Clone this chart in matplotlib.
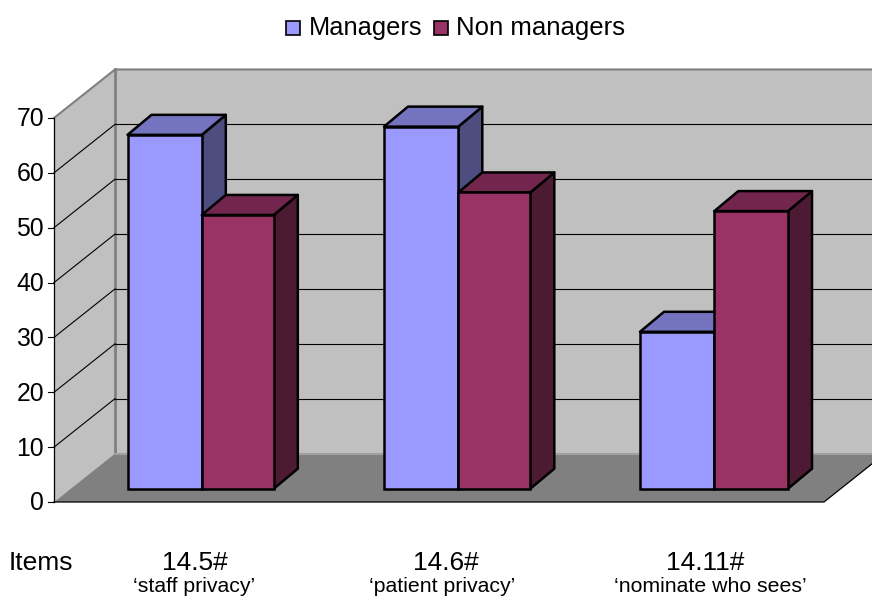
import matplotlib
matplotlib.use('Agg')
import matplotlib.pyplot as plt
from matplotlib.patches import Polygon, Rectangle

plt.rcParams['font.family'] = ['Liberation Sans', 'DejaVu Sans']

# data
items = ['14.5#', '14.6#', '14.11#']
item_notes = ['\u2018staff privacy\u2019', '\u2018patient privacy\u2019', '\u2018nominate who sees\u2019']
managers = [64.5, 66.0, 28.6]
non_managers = [49.9, 54.0, 50.6]
y_ticks = [0, 10, 20, 30, 40, 50, 60, 70]

# layout in pixels
x0, x1 = 54, 824
y0 = 502
per_unit = 5.486
dx, dy = 61, 48.5
bar_dx, bar_dy = 24, 20
bar_y = 488.7
group_left = [127.5, 384, 640]
w_m = 74.3
w_n = [72, 72, 73.7]
item_cx = [195, 446, 705]
note_cx = [194.5, 442, 710]

wall = '#C0C0C0'
floor = '#808080'
blue = ('#9999FF', '#7373BF', '#4D4D80')
plum = ('#993366', '#73264D', '#4D1A33')


def to_y(v):
    return y0 - v * per_unit


fig = plt.figure(figsize=(8.72, 5.98), dpi=100)
ax = fig.add_axes([0, 0, 1, 1])
ax.set_xlim(0, 872)
ax.set_ylim(598, 0)
ax.axis('off')

top = to_y(y_ticks[-1])

# walls and floor
ax.add_patch(Rectangle((x0 + dx, top - dy), 872 - x0 - dx, y0 - top, fc=wall, ec='none', zorder=1))
ax.add_patch(Polygon([(x0, y0), (x0, top), (x0 + dx, top - dy), (x0 + dx, y0 - dy)], fc=wall, ec='none', zorder=1))
ax.add_patch(Polygon([(x0, y0), (x1, y0), (x1 + dx, y0 - dy), (x0 + dx, y0 - dy)], fc=floor, ec='none', zorder=1))
ax.plot([x0, x0 + dx, 872], [top, top - dy, top - dy], color=floor, lw=1.5, zorder=2)
ax.plot([x0 + dx, x0 + dx], [top - dy, y0 - dy], color=floor, lw=2, zorder=2)
ax.plot([x0 + dx, 872], [y0 - dy + 0.5, y0 - dy + 0.5], color='#A0A0A0', lw=1.5, zorder=2)

# gridlines and ticks
for t in y_ticks:
    y = to_y(t)
    if t > 0 and t < y_ticks[-1]:
        ax.plot([x0, x0 + dx], [y, y - dy], color='black', lw=0.8, zorder=3)
        ax.plot([x0 + dx, 872], [y - dy, y - dy], color='black', lw=0.8, zorder=3)
    ax.plot([x0 - 6, x0], [y, y], color='black', lw=0.8, zorder=3)
    ax.text(x0 - 10, y + 1.5, str(t), ha='right', va='center', fontsize=17.8, color='black')

# axis lines
ax.plot([x0, x0], [top, y0], color='black', lw=0.9, zorder=3)
ax.plot([x0, x1, x1 + dx], [y0, y0, y0 - dy], color='black', lw=0.9, zorder=3)


def bar3d(left, width, value, cols, z):
    b = bar_y
    t = bar_y - value * per_unit
    r = left + width
    pts_top = [(left, t), (r, t), (r + bar_dx, t - bar_dy), (left + bar_dx, t - bar_dy)]
    pts_side = [(r, t), (r + bar_dx, t - bar_dy), (r + bar_dx, b - bar_dy), (r, b)]
    ax.add_patch(Polygon(pts_side, fc=cols[2], ec='black', lw=1.8, joinstyle='round', zorder=z))
    ax.add_patch(Polygon(pts_top, fc=cols[1], ec='black', lw=1.8, joinstyle='round', zorder=z))
    ax.add_patch(Rectangle((left, t), width, b - t, fc=cols[0], ec='black', lw=1.8, zorder=z + 0.1))


for i in range(len(items)):
    bar3d(group_left[i], w_m, managers[i], blue, 4)
    bar3d(group_left[i] + w_m, w_n[i], non_managers[i], plum, 5)
    ax.text(item_cx[i], 562.5, items[i], ha='center', va='center', fontsize=19, color='black')
    ax.text(note_cx[i], 592.5, item_notes[i], ha='center', va='baseline', fontsize=15.3, color='black')

ax.text(9, 562.5, 'Items', ha='left', va='center', fontsize=19, color='black')

# legend
ax.add_patch(Rectangle((286, 21), 14, 14, fc=blue[0], ec='black', lw=1.2, zorder=6))
ax.text(309, 28, 'Managers', ha='left', va='center', fontsize=18.3, color='black')
ax.add_patch(Rectangle((434, 21), 14, 14, fc=plum[0], ec='black', lw=1.2, zorder=6))
ax.text(456, 28, 'Non managers', ha='left', va='center', fontsize=18.5, color='black')

fig.savefig('out.png', dpi=100)
